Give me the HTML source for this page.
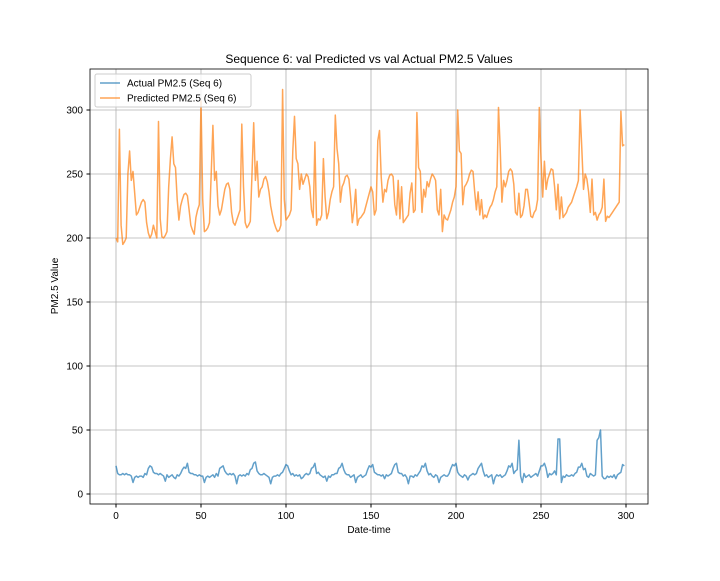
<!DOCTYPE html>
<html><head><meta charset="utf-8"><style>
body{margin:0;background:#fff;}
svg{font-family:"Liberation Sans","DejaVu Sans",sans-serif;}
</style></head><body>
<svg id="chart" width="720" height="576" viewBox="0 0 720 576" xmlns="http://www.w3.org/2000/svg">
<rect width="720" height="576" fill="#fff"/>
<text x="369" y="63" font-size="12" text-anchor="middle">Sequence 6: val Predicted vs val Actual PM2.5 Values</text>
<g id="grid"></g>
<g id="series"></g>
<rect x="90" y="69" width="558" height="435" fill="none" stroke="#000" stroke-width="0.8"/>
<g id="ticks"></g>
<text x="369" y="533" font-size="10" text-anchor="middle">Date-time</text>
<text x="0" y="0" font-size="10" text-anchor="middle" transform="translate(58,286) rotate(-90)">PM2.5 Value</text>
<g>
<rect x="95" y="74" width="156" height="33" fill="#fff" fill-opacity="0.8" stroke="#ccc" rx="2"/>
<line x1="100" y1="83" x2="120" y2="83" stroke="#1f77b4" stroke-opacity="0.7" stroke-width="1.5"/>
<text x="127" y="86.5" font-size="10">Actual PM2.5 (Seq 6)</text>
<line x1="100" y1="98" x2="120" y2="98" stroke="#ff7f0e" stroke-opacity="0.7" stroke-width="1.5"/>
<text x="127" y="101.5" font-size="10">Predicted PM2.5 (Seq 6)</text>
</g>
</svg>
<script>
const xTicks=[0,50,100,150,200,250,300];
const yTicks=[0,50,100,150,200,250,300];
const actual=[22,16,15,15,16,15,16,15,15,14,9,13,14,13,14,14,13,16,15,20,22,21,17,16,16,
15,16,15,14,10,15,13,14,15,13,12,15,14,16,19,21,20,24,17,16,16,15,15,14,15,
14,14,9,13,14,13,14,15,13,16,14,20,21,22,18,16,15,16,15,16,14,8,14,15,14,
15,14,16,15,19,20,24,25,18,16,15,15,16,15,14,13,8,13,14,14,15,14,16,17,20,
23,22,18,15,16,14,15,14,15,12,13,15,16,15,16,20,21,24,16,17,15,14,13,14,10,
14,13,15,15,16,16,20,21,24,19,16,15,15,13,14,15,9,13,14,15,13,14,15,19,22,
21,23,17,16,15,15,14,15,12,15,14,15,16,20,23,24,17,16,16,14,15,13,8,14,14,
13,15,14,16,18,22,21,24,18,15,16,14,13,15,14,9,13,14,15,14,14,16,20,23,22,
24,17,15,14,13,15,14,11,14,15,16,15,16,20,22,24,18,14,15,13,14,15,8,13,15,
14,15,13,14,15,18,22,21,24,16,18,19,42,14,9,16,13,14,15,13,14,15,16,14,18,
22,22,24,20,13,16,15,16,18,15,43,43,9,14,13,15,14,14,15,14,16,17,21,21,24,
19,20,14,13,16,15,14,15,42,44,50,14,12,12,14,13,14,13,15,12,15,16,17,23,22];
const predicted=[200,197,285,210,195,197,200,250,268,245,252,235,218,220,224,228,230,228,212,204,200,203,210,205,200,
291,215,201,200,202,205,240,262,279,258,255,230,214,225,230,234,235,233,222,210,206,203,216,222,226,
307,230,205,206,208,212,250,288,245,252,225,218,222,230,238,242,243,238,220,212,210,214,218,222,289,
240,212,208,210,213,250,290,245,260,232,238,240,246,248,244,236,225,218,212,208,205,206,210,316,230,
214,216,218,222,268,295,262,258,238,250,242,246,250,248,240,222,216,275,210,215,214,218,262,232,215,
220,230,236,240,296,270,258,228,240,243,248,249,246,232,212,222,238,210,215,216,218,220,225,230,235,
240,236,218,222,276,284,248,228,238,236,245,249,250,248,226,218,245,215,240,212,214,216,218,235,243,
220,222,298,255,252,220,238,232,244,240,246,250,248,245,222,218,238,205,218,215,214,218,222,228,232,
240,300,268,266,226,240,242,245,250,253,252,236,222,236,218,230,215,218,216,220,224,226,230,236,240,
302,270,228,245,240,245,252,254,252,242,220,218,235,216,218,225,238,238,228,217,216,220,222,230,302,
262,232,260,238,246,250,254,253,240,222,242,215,232,216,218,220,224,226,228,232,236,240,245,300,270,
238,250,246,236,220,246,218,220,214,218,220,224,246,213,217,216,218,220,222,224,226,228,299,272,273];
const X=v=>116+v*1.7, Y=v=>494-v*1.28;
const NS='http://www.w3.org/2000/svg';
const grid=document.getElementById('grid'), ticks=document.getElementById('ticks'), ser=document.getElementById('series');
xTicks.forEach(t=>{
 const g=document.createElementNS(NS,'line');
 
 
 g.setAttribute('x1',X(t));g.setAttribute('x2',X(t));g.setAttribute('y1',69);g.setAttribute('y2',504);
 g.setAttribute('stroke','#b0b0b0');g.setAttribute('stroke-width','0.8');grid.appendChild(g);
 const tk=document.createElementNS(NS,'line');
 
 
 tk.setAttribute('x1',X(t));tk.setAttribute('x2',X(t));tk.setAttribute('y1',504);tk.setAttribute('y2',507.5);tk.setAttribute('stroke','#000');ticks.appendChild(tk);
 const tx=document.createElementNS(NS,'text');
 
 
 tx.setAttribute('x',X(t));tx.setAttribute('y',519);tx.setAttribute('font-size','10');tx.setAttribute('text-anchor','middle');tx.textContent=t;ticks.appendChild(tx);
});
yTicks.forEach(t=>{
 const g=document.createElementNS(NS,'line');
 
 
 g.setAttribute('x1',90);g.setAttribute('x2',648);g.setAttribute('y1',Y(t));g.setAttribute('y2',Y(t));
 g.setAttribute('stroke','#b0b0b0');g.setAttribute('stroke-width','0.8');grid.appendChild(g);
 const tk=document.createElementNS(NS,'line');
 
 
 tk.setAttribute('x1',86.5);tk.setAttribute('x2',90);tk.setAttribute('y1',Y(t));tk.setAttribute('y2',Y(t));tk.setAttribute('stroke','#000');ticks.appendChild(tk);
 const tx=document.createElementNS(NS,'text');
 
 
 tx.setAttribute('x',83);tx.setAttribute('y',Y(t)+3.5);tx.setAttribute('font-size','10');tx.setAttribute('text-anchor','end');tx.textContent=t;ticks.appendChild(tx);
});
function line(arr,color,name){
 const p=document.createElementNS(NS,'polyline');
 
 
 p.setAttribute('points',arr.map((v,i)=>X(i)+','+Y(v)).join(' '));
 p.setAttribute('fill','none');p.setAttribute('stroke',color);p.setAttribute('stroke-opacity','0.7');p.setAttribute('stroke-width','1.5');p.setAttribute('stroke-linejoin','round');
 ser.appendChild(p);
}
line(actual,'#1f77b4','actual-line');
line(predicted,'#ff7f0e','predicted-line');
</script>
</body></html>
